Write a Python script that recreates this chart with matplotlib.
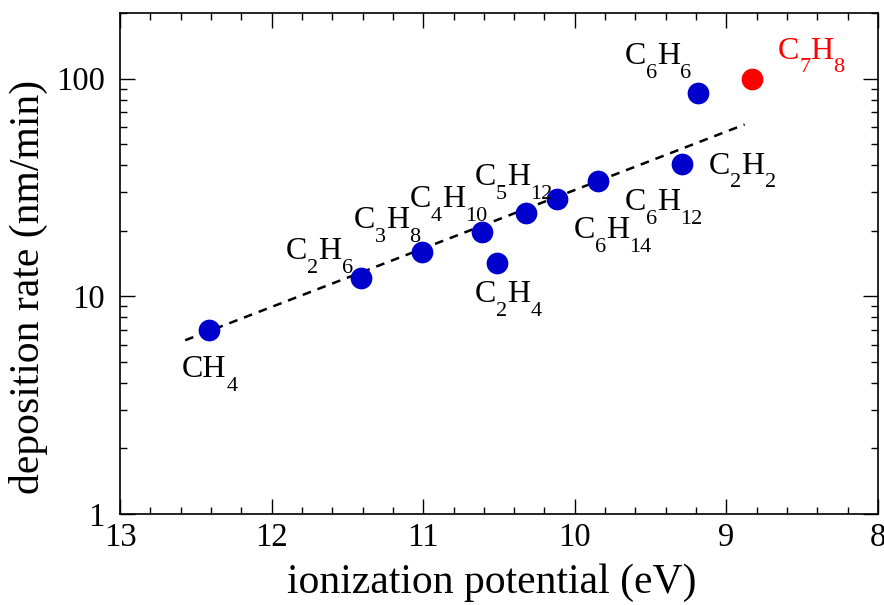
import matplotlib
matplotlib.use("Agg")
import matplotlib.pyplot as plt
import numpy as np
from matplotlib.ticker import LogLocator, MultipleLocator, NullFormatter, FixedLocator, FuncFormatter

plt.rcParams['font.family'] = ['Liberation Serif', 'DejaVu Serif']

# data
names = ['CH4', 'C2H6', 'C3H8', 'C4H10', 'C2H4', 'C5H12', 'C6H14', 'C6H12', 'C2H2', 'C6H6']
ip = [12.41, 11.41, 11.01, 10.61, 10.51, 10.32, 10.12, 9.85, 9.29, 9.19]
rate = [7.0, 12.1, 15.9, 19.7, 14.2, 24.0, 27.9, 34.0, 40.4, 86.0]
red_name = 'C7H8'
red_ip = [8.83]
red_rate = [100.0]
fit_ip = [12.57, 8.88]
fit_rate = [6.28, 61.5]

# label pieces: (text, is_subscript)
pieces = {
    'CH4': [('CH', 0), ('4', 1)],
    'C2H6': [('C', 0), ('2', 1), ('H', 0), ('6', 1)],
    'C3H8': [('C', 0), ('3', 1), ('H', 0), ('8', 1)],
    'C4H10': [('C', 0), ('4', 1), ('H', 0), ('10', 1)],
    'C5H12': [('C', 0), ('5', 1), ('H', 0), ('12', 1)],
    'C2H4': [('C', 0), ('2', 1), ('H', 0), ('4', 1)],
    'C6H14': [('C', 0), ('6', 1), ('H', 0), ('14', 1)],
    'C6H12': [('C', 0), ('6', 1), ('H', 0), ('12', 1)],
    'C2H2': [('C', 0), ('2', 1), ('H', 0), ('2', 1)],
    'C6H6': [('C', 0), ('6', 1), ('H', 0), ('6', 1)],
    'C7H8': [('C', 0), ('7', 1), ('H', 0), ('8', 1)],
}
# label anchor (left, baseline) in data coords
label_pos = {
    'CH4': (12.59, 4.25),
    'C2H6': (11.905, 14.8),
    'C3H8': (11.46, 20.5),
    'C4H10': (11.09, 25.6),
    'C5H12': (10.66, 32.3),
    'C2H4': (10.66, 9.38),
    'C6H14': (10.01, 18.5),
    'C6H12': (9.67, 24.8),
    'C2H2': (9.115, 36.6),
    'C6H6': (9.67, 117.0),
    'C7H8': (8.66, 123.6),
}

MAIN_FS = 23
SUB_FS = 16
DROP = 10  # points

fig = plt.figure(figsize=(8.84, 6.05), dpi=100)
ax = fig.add_axes([120/884, 91/605, 758/884, 501/605])


def chem_label(name, color):
    x, y = label_pos[name]
    prev = None
    for s, sub in pieces[name]:
        fs = SUB_FS if sub else MAIN_FS
        dy = -DROP if sub else 0
        if prev is None:
            prev = ax.text(x, y, s, fontsize=fs, ha='left', va='baseline', color=color)
        else:
            prev = ax.annotate(s, xy=(1, y), xycoords=(prev, 'data'),
                               xytext=(0, dy), textcoords='offset points',
                               fontsize=fs, ha='left', va='baseline', color=color,
                               annotation_clip=False)


ax.plot(fit_ip, fit_rate, color='black', lw=1.8, linestyle=(0, (3.5, 2.8)), zorder=2)
ax.scatter(ip, rate, s=245, color='#0000cc', zorder=3, linewidths=0)
ax.scatter(red_ip, red_rate, s=245, color='#ff0000', zorder=3, linewidths=0)

for n in names:
    chem_label(n, 'black')
chem_label(red_name, '#ff0000')

ax.set_yscale('log')
ax.set_xlim(13, 8)
ax.set_ylim(1, 200)
ax.xaxis.set_major_locator(MultipleLocator(1))
ax.xaxis.set_minor_locator(MultipleLocator(0.2))
ax.yaxis.set_major_locator(FixedLocator([1, 10, 100]))
ax.yaxis.set_major_formatter(FuncFormatter(lambda v, p: '%d' % v))
ax.yaxis.set_minor_locator(LogLocator(base=10, subs=np.arange(2, 10)))
ax.yaxis.set_minor_formatter(NullFormatter())
ax.tick_params(which='both', direction='in', top=True, right=True, labelsize=23.5, width=1)
ax.tick_params(which='major', length=11)
ax.tick_params(which='minor', length=5)
ax.tick_params(axis='x', pad=6)
ax.tick_params(axis='y', pad=11)
for sp in ax.spines.values():
    sp.set_linewidth(1.2)

ax.set_xlabel('ionization potential (eV)', fontsize=30, labelpad=8)
ax.set_ylabel('deposition rate (nm/min)', fontsize=30, labelpad=6)
ax.xaxis.label.set_x(0.491)
ax.yaxis.label.set_y(0.453)

fig.savefig('out.png', dpi=100)
